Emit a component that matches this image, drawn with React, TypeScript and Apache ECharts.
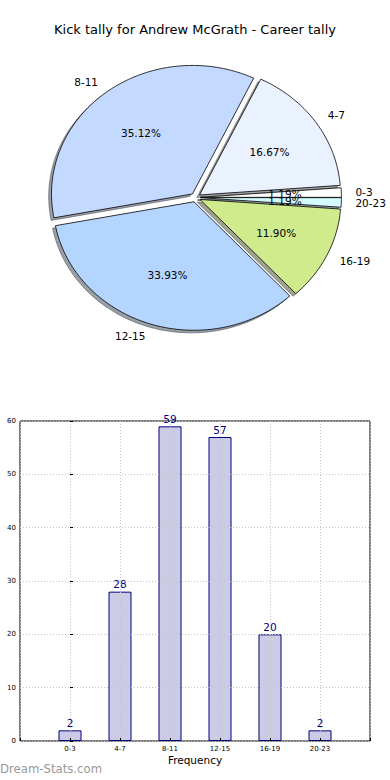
import React, { useEffect, useRef } from "react";
import * as echarts from "echarts";

const TITLE = "Kick tally for Andrew McGrath - Career tally";
const WATERMARK = "Dream-Stats.com";
const X_NAME = "Frequency";
const categories = ["0-3", "4-7", "8-11", "12-15", "16-19", "20-23"];
const frequencies = [2, 28, 59, 57, 20, 2];
const pieColors = ["#ffffff", "#eaf1ff", "#c4d9ff", "#b4d5ff", "#cfeb8c", "#d4fbff"];
const yTicks = [0, 10, 20, 30, 40, 50, 60];

const FONT = "'DejaVu Sans', sans-serif";

export default function App() {
  const ref = useRef<HTMLDivElement>(null);
  useEffect(() => {
    if (!ref.current) return;
    const chart = echarts.init(ref.current, undefined, { renderer: "svg" });
    const total = frequencies.reduce((a, b) => a + b, 0);
    const cum: number[] = [];
    frequencies.reduce((acc, v, i) => {
      cum[i] = acc;
      return acc + v;
    }, 0);
    const P = { cx: 195.5, cy: 197.5, rx: 141, ry: 128.5, explode: 0.035 };

    const hexToRgb = (h: string) => {
      const n = parseInt(h.slice(1), 16);
      return [(n >> 16) & 255, (n >> 8) & 255, n & 255];
    };

    const renderItem = (params: any, api: any) => {
      const i = params.dataIndex;
      const v = api.value(0);
      const a1 = (cum[i] / total) * Math.PI * 2;
      const a2 = ((cum[i] + v) / total) * Math.PI * 2;
      const mid = (a1 + a2) / 2;
      const ox = P.cx + P.explode * P.rx * Math.cos(mid);
      const oy = P.cy - P.explode * P.ry * Math.sin(mid);
      const pts: number[][] = [[ox, oy]];
      const steps = Math.max(4, Math.ceil(((a2 - a1) * 180) / Math.PI));
      for (let k = 0; k <= steps; k++) {
        const a = a1 + ((a2 - a1) * k) / steps;
        pts.push([ox + P.rx * Math.cos(a), oy - P.ry * Math.sin(a)]);
      }
      const sdx = -0.02 * P.rx;
      const sdy = 0.02 * P.ry;
      const spts = pts.map((p) => [p[0] + sdx, p[1] + sdy]);
      const [r, g, b] = hexToRgb(pieColors[i]);
      const sc = `rgba(${Math.round(r * 0.3)},${Math.round(g * 0.3)},${Math.round(b * 0.3)},0.5)`;
      const c = Math.cos(mid);
      const s = Math.sin(mid);
      const lx = ox + 1.1 * P.rx * c;
      const ly = oy - 1.1 * P.ry * s;
      const px = ox + 0.6 * P.rx * c;
      const py = oy - 0.6 * P.ry * s;
      const pct = ((v / total) * 100).toFixed(2) + "%";
      return {
        type: "group",
        children: [
          {
            type: "polygon",
            z2: 1,
            shape: { points: spts },
            style: { fill: sc, stroke: sc, lineWidth: 1 },
          },
          {
            type: "polygon",
            z2: 5,
            shape: { points: pts },
            style: { fill: pieColors[i], stroke: "#000", lineWidth: 0.8 },
          },
          {
            type: "text",
            z2: 10,
            style: {
              x: lx,
              y: ly,
              text: categories[i],
              fill: "#000",
              font: `10.5px ${FONT}`,
              align: c > 0 ? "left" : "right",
              verticalAlign: "middle",
            },
          },
          {
            type: "text",
            z2: 10,
            style: {
              x: px,
              y: py,
              text: pct,
              fill: "#000",
              font: `10.5px ${FONT}`,
              align: "center",
              verticalAlign: "middle",
            },
          },
        ],
      };
    };

    const gridLine = { show: true, lineStyle: { color: "#c4c4c4", type: [1, 2], width: 1 } };

    chart.setOption({
      animation: false,
      textStyle: { fontFamily: FONT },
      title: {
        text: TITLE,
        left: "center",
        top: 23,
        padding: 0,
        textStyle: { fontSize: 13, fontWeight: "normal", color: "#000", fontFamily: FONT },
      },
      grid: {
        left: 20,
        right: 20,
        top: 421,
        height: 320,
        show: true,
        borderColor: "#000",
        borderWidth: 1,
        backgroundColor: "transparent",
      },
      xAxis: {
        type: "value",
        min: -1,
        max: 6,
        interval: 1,
        z: 5,
        name: X_NAME,
        nameLocation: "middle",
        nameGap: 13,
        nameTextStyle: { fontSize: 10.5, color: "#000", fontFamily: FONT },
        axisLine: { show: false },
        axisTick: { show: true, inside: true, length: 3, lineStyle: { color: "#000" } },
        axisLabel: {
          fontSize: 7,
          color: "#000",
          margin: 4,
          fontFamily: FONT,
          formatter: (v: number) => (categories[v] !== undefined ? categories[v] : ""),
        },
        splitLine: gridLine,
      },
      yAxis: {
        type: "value",
        min: yTicks[0],
        max: yTicks[yTicks.length - 1],
        interval: 10,
        z: 5,
        axisLine: { show: false },
        axisTick: { show: true, inside: true, length: 3, lineStyle: { color: "#000" } },
        axisLabel: { fontSize: 7, color: "#000", margin: 4, fontFamily: FONT },
        splitLine: gridLine,
      },
      graphic: [
        {
          type: "text",
          left: 0,
          top: 763,
          style: {
            text: WATERMARK,
            fill: "#999",
            font: `11.7px ${FONT}`,
          },
        },
      ],
      series: [
        {
          type: "custom",
          coordinateSystem: "none",
          renderItem,
          data: frequencies,
          silent: true,
        },
        {
          type: "bar",
          data: frequencies.map((v, i) => [i, v]),
          barWidth: 23,
          itemStyle: { color: "#cbcbe5", borderColor: "#000080", borderWidth: 1 },
          label: {
            show: true,
            position: "top",
            distance: 2,
            color: "#000080",
            fontSize: 10.5,
            fontFamily: FONT,
          },
        },
      ],
    });
    return () => chart.dispose();
  }, []);
  return (
    <div
      ref={ref}
      style={{ position: "fixed", left: 0, top: 0, width: 390, height: 780, background: "#fff" }}
    />
  );
}
